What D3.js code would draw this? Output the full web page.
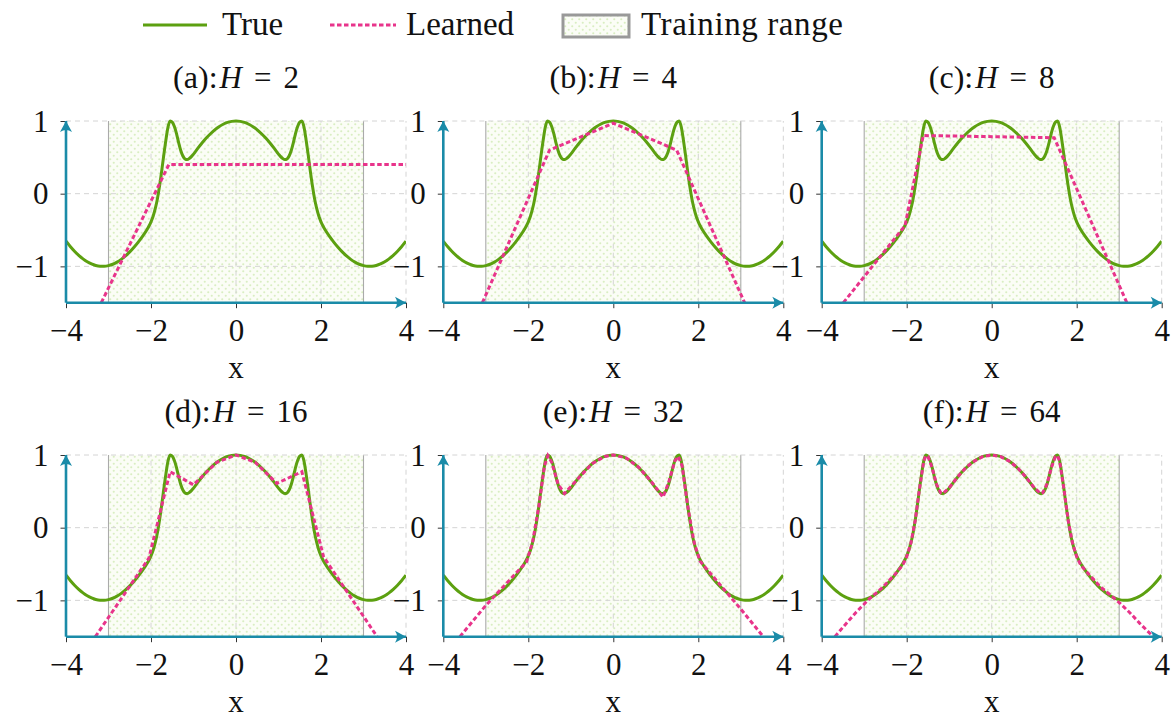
<!DOCTYPE html>
<html><head><meta charset="utf-8">
<script src="https://cdn.jsdelivr.net/npm/d3@7"></script>
<style>
body{margin:0;background:#fff;}
svg{display:block;}
text{font-family:"Liberation Serif","Times New Roman",serif;fill:#111;}
</style>
</head><body>
<svg id="chart" width="1171" height="718"></svg>
<script>
// ---------- data ----------
const xTicks = [-4, -2, 0, 2, 4];
const yTicks = [-1, 0, 1];
const xDomain = [-4, 4];
const yDomain = [-1.5, 1];
const trainRange = [-3, 3];
const panelLetters = ["(a)", "(b)", "(c)", "(d)", "(e)", "(f)"];
const hiddenSizes = [2, 4, 8, 16, 32, 64];
const legendLabels = ["True", "Learned", "Training range"];

const trueCurve = [
  [-4,-0.654],[-3.9,-0.726],[-3.8,-0.791],[-3.7,-0.848],[-3.6,-0.897],[-3.5,-0.937],[-3.4,-0.967],
  [-3.3,-0.988],[-3.2,-0.998],[-3.1,-0.999],[-3.0,-0.990],[-2.9,-0.971],[-2.8,-0.942],[-2.7,-0.904],
  [-2.6,-0.857],[-2.5,-0.801],[-2.4,-0.737],[-2.3,-0.666],[-2.2,-0.588],[-2.1,-0.500],[-2.05,-0.448],
  [-2.0,-0.387],[-1.95,-0.310],[-1.9,-0.207],[-1.85,-0.073],[-1.8,0.101],[-1.75,0.306],[-1.7,0.528],
  [-1.65,0.736],[-1.6,0.915],[-1.55,1.0],[-1.5,0.985],[-1.45,0.925],[-1.4,0.827],[-1.35,0.703],
  [-1.3,0.595],[-1.25,0.519],[-1.2,0.478],[-1.15,0.469],[-1.1,0.483],[-1.05,0.510],[-1.0,0.545],
  [-0.9,0.623],[-0.8,0.697],[-0.7,0.765],[-0.6,0.825],[-0.5,0.878],[-0.4,0.921],[-0.3,0.955],
  [-0.2,0.980],[-0.1,0.995],[0,1.0],
  [0.1,0.995],[0.2,0.980],[0.3,0.955],[0.4,0.921],[0.5,0.878],[0.6,0.825],[0.7,0.765],[0.8,0.697],
  [0.9,0.623],[1.0,0.545],[1.05,0.510],[1.1,0.483],[1.15,0.469],[1.2,0.478],[1.25,0.519],[1.3,0.595],
  [1.35,0.703],[1.4,0.827],[1.45,0.925],[1.5,0.985],[1.55,1.0],[1.6,0.915],[1.65,0.736],[1.7,0.528],
  [1.75,0.306],[1.8,0.101],[1.85,-0.073],[1.9,-0.207],[1.95,-0.310],[2.0,-0.387],[2.05,-0.448],
  [2.1,-0.500],[2.2,-0.588],[2.3,-0.666],[2.4,-0.737],[2.5,-0.801],[2.6,-0.857],[2.7,-0.904],
  [2.8,-0.942],[2.9,-0.971],[3.0,-0.990],[3.1,-0.999],[3.2,-0.998],[3.3,-0.988],[3.4,-0.967],
  [3.5,-0.937],[3.6,-0.897],[3.7,-0.848],[3.8,-0.791],[3.9,-0.726],[4,-0.654]
];

const learnedA = [[-3.17,-1.5],[-1.58,0.40],[4,0.40]];
const learnedB = [[-3.08,-1.5],[-1.50,0.60],[0,0.97],[1.49,0.60],[3.09,-1.5]];
const learnedC = [[-3.49,-1.5],[-2.04,-0.44],[-1.61,0.80],[1.47,0.77],[3.18,-1.5]];
const learnedD = [[-3.31,-1.5],[-2.05,-0.42],[-1.55,0.77],[-1.0,0.59],[-0.45,0.90],[0,1.0],
  [0.45,0.90],[0.96,0.61],[1.55,0.77],[2.06,-0.40],[3.32,-1.5]];
const learnedE = [[-3.61,-1.5],[-3.0,-1.07],[-2.04,-0.47],[-1.9,-0.2],[-1.75,0.3],[-1.62,0.85],
  [-1.54,0.99],[-1.45,0.9],[-1.3,0.6],[-1.15,0.47],[-0.9,0.63],[-0.5,0.88],[-0.2,0.98],[0,1.0],
  [0.3,0.96],[0.6,0.83],[0.9,0.63],[1.17,0.42],[1.3,0.62],[1.45,0.92],[1.53,0.98],[1.62,0.85],
  [1.75,0.3],[1.9,-0.2],[2.04,-0.46],[3.0,-1.12],[3.53,-1.5]];
const learnedF = [[-3.69,-1.5],[-3.5,-1.37],[-3.2,-1.17],[-2.9,-0.99],[-2.6,-0.84],[-2.3,-0.66],
  [-2.1,-0.52],[-2.0,-0.40],[-1.9,-0.21],[-1.8,0.10],[-1.7,0.53],[-1.6,0.91],[-1.55,0.99],[-1.5,0.98],
  [-1.4,0.82],[-1.3,0.60],[-1.2,0.48],[-1.15,0.47],[-1.0,0.55],[-0.8,0.70],[-0.6,0.83],[-0.4,0.92],
  [-0.2,0.98],[0,1.0],[0.2,0.98],[0.4,0.92],[0.6,0.83],[0.8,0.70],[1.0,0.55],[1.15,0.47],[1.2,0.48],
  [1.3,0.60],[1.4,0.82],[1.5,0.98],[1.55,0.99],[1.6,0.91],[1.7,0.53],[1.8,0.10],[1.9,-0.21],
  [2.0,-0.40],[2.1,-0.52],[2.3,-0.65],[2.55,-0.81],[2.8,-0.93],[3.02,-1.04],[3.25,-1.17],
  [3.49,-1.32],[3.8,-1.5]];
const learnedSeries = [learnedA, learnedB, learnedC, learnedD, learnedE, learnedF];

// ---------- style / layout ----------
const GREEN = "#5ca010", PINK = "#e8348b", TEAL = "#1a8ba8";
const SERIF = '"Liberation Serif","Times New Roman",serif';
const colLeft = [66, 443.3, 821.7];
const rowTop = [121, 455];
const plotW = 340, plotH = 181.7;

const svg = d3.select("#chart");
const defs = svg.append("defs");
const pat = defs.append("pattern").attr("id","dots").attr("patternUnits","userSpaceOnUse")
  .attr("width",7).attr("height",7);
pat.append("rect").attr("width",7).attr("height",7).attr("fill","#fbfdf6");
pat.append("circle").attr("cx",1.75).attr("cy",1.75).attr("r",1.05).attr("fill","#d9eec2");
pat.append("circle").attr("cx",5.25).attr("cy",5.25).attr("r",1.05).attr("fill","#d9eec2");

defs.append("marker").attr("id","arrow").attr("viewBox","-12 -7 14 14")
  .attr("refX",0).attr("refY",0).attr("markerWidth",14).attr("markerHeight",14)
  .attr("markerUnits","userSpaceOnUse").attr("orient","auto")
  .append("path").attr("d","M0,0 L-11,-6 Q-7,0 -11,6 Z").attr("fill",TEAL);

// ---------- legend ----------
const lg = svg.append("g");
lg.append("line").attr("x1",143).attr("x2",207).attr("y1",25).attr("y2",25)
  .attr("stroke",GREEN).attr("stroke-width",3);
lg.append("text").attr("x",222).attr("y",35).attr("font-size",33).text(legendLabels[0]);
lg.append("line").attr("x1",330).attr("x2",396).attr("y1",25).attr("y2",25)
  .attr("stroke",PINK).attr("stroke-width",3).attr("stroke-dasharray","4.5,2.5");
lg.append("text").attr("x",406).attr("y",35).attr("font-size",33).text(legendLabels[1]);
lg.append("rect").attr("x",563).attr("y",15).attr("width",66).attr("height",22)
  .attr("fill","url(#dots)").attr("stroke","#999").attr("stroke-width",3);
lg.append("text").attr("x",641).attr("y",35).attr("font-size",33)
  .attr("textLength",202).attr("lengthAdjust","spacing").text(legendLabels[2]);

// ---------- panels ----------
hiddenSizes.forEach((H, i) => {
  const r = Math.floor(i/3), c = i%3;
  const x0 = colLeft[c], top = rowTop[r];
  const x = d3.scaleLinear().domain(xDomain).range([x0, x0+plotW]);
  const y = d3.scaleLinear().domain(yDomain).range([top+plotH, top]);
  const g = svg.append("g");

  const cid = "clip"+i;
  defs.append("clipPath").attr("id",cid).append("rect")
    .attr("x",x(xDomain[0])).attr("y",y(yDomain[1])-6)
    .attr("width",x(xDomain[1])-x(xDomain[0])).attr("height",y(yDomain[0])-y(yDomain[1])+6);

  // training range
  g.append("rect").attr("x",x(trainRange[0])).attr("y",y(yDomain[1]))
    .attr("width",x(trainRange[1])-x(trainRange[0])).attr("height",y(yDomain[0])-y(yDomain[1]))
    .attr("fill","url(#dots)");
  trainRange.forEach(v => g.append("line").attr("x1",x(v)).attr("x2",x(v))
    .attr("y1",y(yDomain[0])).attr("y2",y(yDomain[1])).attr("stroke","#aaa").attr("stroke-width",1.1));

  // grid
  xTicks.forEach(v => g.append("line").attr("x1",x(v)).attr("x2",x(v))
    .attr("y1",y(yDomain[0])).attr("y2",y(yDomain[1]))
    .attr("stroke","#d4d4d4").attr("stroke-width",1).attr("stroke-dasharray","5,4"));
  yTicks.forEach(v => g.append("line").attr("x1",x(xDomain[0])).attr("x2",x(xDomain[1]))
    .attr("y1",y(v)).attr("y2",y(v))
    .attr("stroke","#d4d4d4").attr("stroke-width",1).attr("stroke-dasharray","5,4"));

  // curves
  const cg = g.append("g").attr("clip-path",`url(#${cid})`);
  cg.append("path").datum(trueCurve)
    .attr("d", d3.line().x(d=>x(d[0])).y(d=>y(d[1])).curve(d3.curveMonotoneX))
    .attr("fill","none").attr("stroke",GREEN).attr("stroke-width",3);
  cg.append("path").datum(learnedSeries[i]).attr("d", d3.line().x(d=>x(d[0])).y(d=>y(d[1])))
    .attr("fill","none").attr("stroke",PINK).attr("stroke-width",3).attr("stroke-dasharray","4.5,2.6");

  // ticks
  const fmt = d => d < 0 ? "\u2212" + Math.abs(d) : String(d);
  const xa = g.append("g").attr("transform",`translate(0,${y(yDomain[0])})`)
    .call(d3.axisBottom(x).tickValues(xTicks).tickSize(5.5).tickPadding(10).tickFormat(fmt));
  xa.attr("font-family",SERIF);
  xa.select(".domain").remove();
  xa.selectAll(".tick line").attr("stroke","#333").attr("stroke-width",1);
  xa.selectAll(".tick text").attr("font-size",31).attr("fill","#111")
    .attr("font-family",SERIF).attr("dy",null).attr("y",38);
  const ya = g.append("g").attr("transform",`translate(${x(xDomain[0])},0)`)
    .call(d3.axisLeft(y).tickValues(yTicks).tickSize(5.5).tickPadding(12).tickFormat(fmt));
  ya.attr("font-family",SERIF);
  ya.select(".domain").remove();
  ya.selectAll(".tick line").attr("stroke","#333").attr("stroke-width",1);
  ya.selectAll(".tick text").attr("font-size",31).attr("fill","#111")
    .attr("font-family",SERIF).attr("dy","0.33em");

  // axis lines with arrows
  g.append("line").attr("x1",x(xDomain[0])).attr("x2",x(xDomain[1]))
    .attr("y1",y(yDomain[0])).attr("y2",y(yDomain[0]))
    .attr("stroke",TEAL).attr("stroke-width",2.6).attr("marker-end","url(#arrow)");
  g.append("line").attr("x1",x(xDomain[0])).attr("x2",x(xDomain[0]))
    .attr("y1",y(yDomain[0])).attr("y2",y(yDomain[1]))
    .attr("stroke",TEAL).attr("stroke-width",2.6).attr("marker-end","url(#arrow)");

  // x label
  g.append("text").attr("x",x(0)).attr("y",y(yDomain[0])+75).attr("text-anchor","middle")
    .attr("font-size",31).text("x");

  // title
  const t = g.append("text").attr("x",x(0)).attr("y",top-33.5).attr("text-anchor","middle")
    .attr("font-size",31);
  t.append("tspan").attr("font-size",32).text(panelLetters[i] + ":");
  t.append("tspan").attr("font-style","italic").attr("dx",2).text("H");
  t.append("tspan").attr("dx",12).text("=");
  t.append("tspan").attr("dx",12).text(String(H));
});
</script>
</body></html>
